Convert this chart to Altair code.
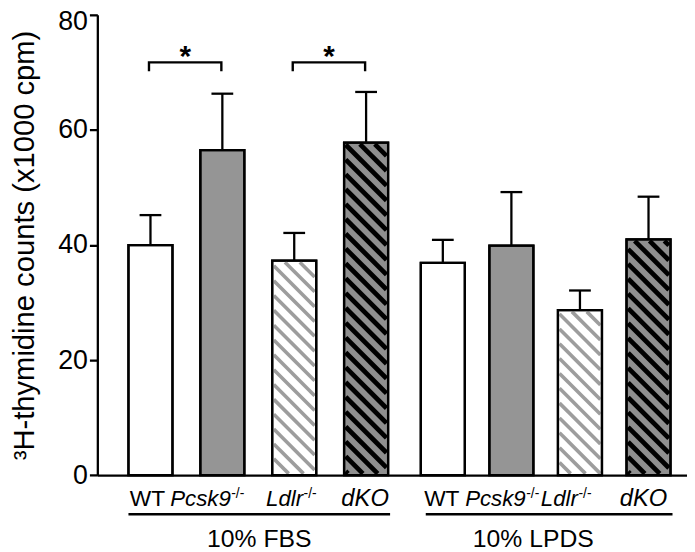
import altair as alt
import numpy as np
import pandas as pd

# ---------------- data ----------------
groups = ["10% FBS", "10% LPDS"]
genotypes = ["WT", "Pcsk9", "Ldlr", "dKO"]
superscripts = ["", "-/-", "-/-", ""]
fbs_mean = [40.0, 56.5, 37.3, 57.8]
fbs_sem = [5.2, 9.8, 4.8, 8.8]
lpds_mean = [36.9, 39.9, 28.7, 41.0]
lpds_sem = [4.0, 9.3, 3.4, 7.4]
y_ticks = [0, 20, 40, 60, 80]
sig_group = ["10% FBS", "10% FBS"]
sig_left = ["WT", "Ldlr"]
sig_right = ["Pcsk9", "dKO"]
sig_text = ["*", "*"]
y_title = "³H-thymidine counts (x1000 cpm)"

# ---------------- styles / layout ----------------
FONT = "Liberation Sans"
fill_colors = ["#ffffff", "#959595", "#ffffff", "#8f8f8f"]
hatch_colors = ["", "", "#9d9d9d", "#000000"]
hatch_widths = [0, 0, 3.6, 4.8]
label_sizes = [23, 22.5, 22.5, 24]
W, H = 596.0, 465.3
YMAX = 80
K = H / YMAX
BAR_W = 44.5
GROUP_START = [53.7, 349.2]
GROUP_STEP = [72.65, 69.3]
LABEL_DX = [[-3, 8.5, 9, -1], [-1, 14.5, -2, -5]]
GROUP_LABEL_DX = [0, -16]
ULINE_DX0 = [0, 5]
PERIOD = 15.0
INSET = 1.6
LINE_W = 2.3

means = [fbs_mean, lpds_mean]
sems = [fbs_sem, lpds_sem]

bar_rows = []
for gi, g in enumerate(groups):
    for ci, gt in enumerate(genotypes):
        cx = GROUP_START[gi] + ci * GROUP_STEP[gi]
        m = means[gi][ci]
        s = sems[gi][ci]
        bar_rows.append(dict(group=g, genotype=gt, cx=cx, x0=cx - BAR_W / 2, x1=cx + BAR_W / 2,
                             mean=m, top=m + s, zero=0.0, fill=fill_colors[ci],
                             hatch=hatch_colors[ci], hw=hatch_widths[ci],
                             capl=cx - 11, capr=cx + 11, fs=label_sizes[ci],
                             lab=gt, sup=superscripts[ci], lx=cx + LABEL_DX[gi][ci]))
bars = pd.DataFrame(bar_rows)

# hatch stripes ("\" direction), clipped to each bar, built from the bar values
hatch_rows = []
for _, b in bars.iterrows():
    if not b["hatch"]:
        continue
    xl, xr = b["x0"] + INSET, b["x1"] - INSET
    yb, yt = INSET, b["mean"] * K - INSET
    n0 = int(np.ceil((yb + xl) / PERIOD))
    n1 = int(np.floor((yt + xr) / PERIOD))
    for n in range(n0, n1 + 1):
        c = n * PERIOD
        xs = max(xl, c - yt)
        xe = min(xr, c - yb)
        if xe - xs > 0.8:
            hatch_rows.append(dict(x=xs, x2=xe, y=(c - xs) / K, y2=(c - xe) / K,
                                   color=b["hatch"], w=b["hw"]))
hatch = pd.DataFrame(hatch_rows)

# significance brackets
br_rows, star_rows = [], []
for i, (g, a, bb, t) in enumerate(zip(sig_group, sig_left, sig_right, sig_text)):
    ra = bars[(bars.group == g) & (bars.genotype == a)].iloc[0]
    rb = bars[(bars.group == g) & (bars.genotype == bb)].iloc[0]
    xa, xb = ra["cx"] - 1.5, rb["cx"] - 1
    ytop, yleg = 71.75, 70.2
    for o, (xx, yy) in enumerate([(xa, yleg), (xa, ytop), (xb, ytop), (xb, yleg)]):
        br_rows.append(dict(id=i, o=o, x=xx, y=yy))
    star_rows.append(dict(x=(xa + xb) / 2, y=71.1, t=t))
brackets = pd.DataFrame(br_rows)
stars = pd.DataFrame(star_rows)

# group underline + label
grp_rows = []
for gi, g in enumerate(groups):
    sub = bars[bars.group == g]
    x0, x1 = sub["x0"].min() + ULINE_DX0[gi], sub["x1"].max() + 2
    grp_rows.append(dict(group=g, x0=x0, x1=x1, y=-6.77,
                         xl=(x0 + x1) / 2 + GROUP_LABEL_DX[gi], yl=-12.5))
grp = pd.DataFrame(grp_rows)

LAB_Y = -5.28
SUP_Y = -4.0
bars["ly"] = LAB_Y
bars["sy"] = SUP_Y

xs_ = alt.Scale(domain=[0, W], nice=False, zero=False)
ys_ = alt.Scale(domain=[0, YMAX], nice=False)

x_axis = alt.Axis(labels=False, ticks=False, title=None, grid=False,
                  domainWidth=LINE_W, domainColor="black")
y_axis = alt.Axis(values=y_ticks, title=y_title, grid=False, tickSize=8, tickWidth=LINE_W,
                  domainWidth=LINE_W, domainColor="black", tickColor="black",
                  labelFontSize=27, labelFont=FONT, labelColor="black", labelPadding=2,
                  labelOffset={"condition": {"test": "datum.value == 80", "value": 7}, "value": 0},
                  titleFontSize=29.5, titleFont=FONT, titleFontWeight="normal", titleColor="black",
                  titleX=-74, titleY=H / 2, titleAngle=270, titleAlign="center",
                  titleBaseline="middle")


def X(f):
    return alt.X(f, scale=xs_, axis=x_axis)


def Y(f):
    return alt.Y(f, scale=ys_, axis=y_axis)


bar_layer = alt.Chart(bars).mark_rect(stroke="black", strokeWidth=LINE_W).encode(
    x=X("x0:Q"), x2="x1:Q", y=Y("mean:Q"), y2="zero:Q",
    fill=alt.Fill("fill:N", scale=None),
)

hatch_layer = alt.Chart(hatch).mark_rule(strokeCap="butt").encode(
    x=X("x:Q"), x2="x2:Q", y=Y("y:Q"), y2="y2:Q",
    stroke=alt.Stroke("color:N", scale=None),
    strokeWidth=alt.StrokeWidth("w:Q", scale=None),
)

outline_layer = alt.Chart(bars).mark_rect(fillOpacity=0, stroke="black", strokeWidth=LINE_W).encode(
    x=X("x0:Q"), x2="x1:Q", y=Y("mean:Q"), y2="zero:Q",
)

err_layer = alt.Chart(bars).mark_rule(color="black", strokeWidth=LINE_W).encode(
    x=X("cx:Q"), y=Y("mean:Q"), y2="top:Q",
)
cap_layer = alt.Chart(bars).mark_rule(color="black", strokeWidth=LINE_W).encode(
    x=X("capl:Q"), x2="capr:Q", y=Y("top:Q"),
)

bracket_layer = alt.Chart(brackets).mark_line(color="black", strokeWidth=2.4, strokeJoin="miter").encode(
    x=X("x:Q"), y=Y("y:Q"), detail="id:N", order="o:Q",
)
star_layer = alt.Chart(stars).mark_text(font=FONT, fontSize=30, fontWeight="bold", color="black",
                                        baseline="alphabetic", align="center").encode(
    x=X("x:Q"), y=Y("y:Q"), text="t:N",
)

wt_lab = alt.Chart(bars[bars.genotype == "WT"]).mark_text(
    font=FONT, color="black", baseline="alphabetic", align="center").encode(
    x=X("lx:Q"), y=Y("ly:Q"), text="lab:N", size=alt.Size("fs:Q", scale=None))
ital_r = alt.Chart(bars[bars.sup != ""]).mark_text(
    font=FONT, fontStyle="italic", color="black", baseline="alphabetic", align="right").encode(
    x=X("lx:Q"), y=Y("ly:Q"), text="lab:N", size=alt.Size("fs:Q", scale=None))
ital_c = alt.Chart(bars[bars.genotype == "dKO"]).mark_text(
    font=FONT, fontStyle="italic", color="black", baseline="alphabetic", align="center").encode(
    x=X("lx:Q"), y=Y("ly:Q"), text="lab:N", size=alt.Size("fs:Q", scale=None))
sup_lab = alt.Chart(bars[bars.sup != ""]).mark_text(
    font=FONT, fontSize=14, color="black", baseline="alphabetic", align="left", dx=0.5).encode(
    x=X("lx:Q"), y=Y("sy:Q"), text="sup:N")

uline = alt.Chart(grp).mark_rule(color="black", strokeWidth=2.5).encode(
    x=X("x0:Q"), x2="x1:Q", y=Y("y:Q"))
grp_lab = alt.Chart(grp).mark_text(font=FONT, fontSize=25, color="black",
                                   baseline="alphabetic", align="center").encode(
    x=X("xl:Q"), y=Y("yl:Q"), text="group:N")

chart = alt.layer(
    bar_layer, hatch_layer, outline_layer, err_layer, cap_layer,
    bracket_layer, star_layer, wt_lab, ital_r, ital_c, sup_lab, uline, grp_lab,
).properties(
    width=W, height=H,
    padding={"left": 90.3, "top": 4, "right": 0, "bottom": 74.7},
    autosize=alt.AutoSizeParams(type="none"),
).configure(font=FONT).configure_view(stroke=None)

chart.save("out.html", embed_options={"renderer": "svg", "actions": False})
